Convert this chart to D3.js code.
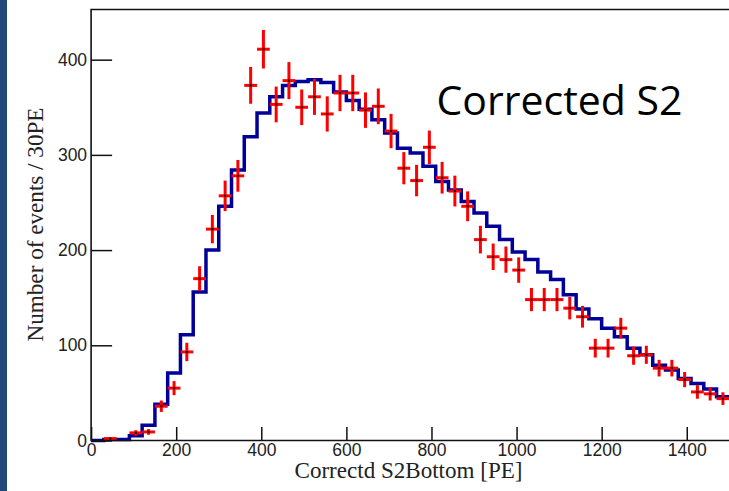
<!DOCTYPE html>
<html>
<head>
<meta charset="utf-8">
<script src="https://cdn.jsdelivr.net/npm/d3@7"></script>
<style>
  html, body { margin: 0; padding: 0; background: #fff; }
  svg { display: block; }
</style>
</head>
<body>
<svg width="729" height="491"></svg>
<script>
// lower bin edges, 30 PE per bin
var binEdges = [0, 30, 60, 90, 120, 150, 180, 210, 240, 270,
  300, 330, 360, 390, 420, 450, 480, 510, 540, 570,
  600, 630, 660, 690, 720, 750, 780, 810, 840, 870,
  900, 930, 960, 990, 1020, 1050, 1080, 1110, 1140, 1170,
  1200, 1230, 1260, 1290, 1320, 1350, 1380, 1410, 1440, 1470]
var binWidth = 30

// simulation (blue histogram)
var mcCounts = [0, 1, 1, 5, 16, 38, 71, 111, 156, 200,
  246, 284, 319, 344, 361, 373, 377, 379, 376, 366,
  357, 348, 337, 323, 307, 302, 288, 272, 263, 251,
  239, 225, 211, 198, 190, 177, 169, 153, 138, 128,
  118, 109, 97, 90, 79, 74, 65, 60, 54, 46]

// data (red points)
var dataCounts = [0, 2, 0, 8, 9, 36, 55, 93, 170, 222,
  257, 278, 373, 411, 353, 378, 350, 361, 343, 365,
  365, 347, 351, 325, 286, 273, 308, 276, 262, 246,
  211, 193, 190, 179, 148, 148, 148, 139, 130, 97,
  97, 118, 89, 90, 76, 76, 64, 51, 49, 44]

var xTicks = [0, 200, 400, 600, 800, 1000, 1200, 1400]
var yTicks = [0, 100, 200, 300, 400]

var xTitle = 'Correctd S2Bottom [PE]'
var yTitle = 'Number of events / 30PE'
var label = 'Corrected S2'

var draw = () => {
  var svg = d3.select('svg')
  var left = 91.1, right = 729.3, top = 9.5, bottom = 440.5

  // slide edge
  svg.append('rect')
    .attr('x', 0).attr('y', 0)
    .attr('width', 7).attr('height', 491)
    .attr('fill', '#1f497d')

  var x = d3.scaleLinear().domain([0, 1500]).range([left, right])
  var y = d3.scaleLinear().domain([0, 452.7]).range([bottom, top])

  // blue step histogram
  var steps = binEdges.map((e, i) => [e, mcCounts[i]])
  steps.push([binEdges[binEdges.length - 1] + binWidth, mcCounts[mcCounts.length - 1]])
  var line = d3.line()
    .x(d => x(d[0]))
    .y(d => y(d[1]))
    .curve(d3.curveStepAfter)

  svg.append('path')
    .datum(steps)
    .attr('fill', 'none')
    .attr('stroke', '#000099')
    .attr('stroke-width', 3.5)
    .attr('stroke-linejoin', 'miter')
    .attr('d', line)

  // red data points with sqrt(N) errors
  var pts = binEdges.map((e, i) => ({lo: e, n: dataCounts[i]})).filter(d => d.n > 0)
  var g = svg.append('g')
    .attr('stroke', '#ff0000')
    .attr('stroke-width', 3)

  g.selectAll('line.h').data(pts).enter().append('line')
    .attr('class', 'h')
    .attr('x1', d => x(d.lo))
    .attr('x2', d => x(d.lo + binWidth))
    .attr('y1', d => y(d.n))
    .attr('y2', d => y(d.n))

  g.selectAll('line.v').data(pts).enter().append('line')
    .attr('class', 'v')
    .attr('x1', d => x(d.lo + binWidth / 2))
    .attr('x2', d => x(d.lo + binWidth / 2))
    .attr('y1', d => y(d.n - Math.sqrt(d.n)))
    .attr('y2', d => y(d.n + Math.sqrt(d.n)))

  svg.append('g').selectAll('rect').data(pts).enter().append('rect')
    .attr('x', d => x(d.lo + binWidth / 2) - 1)
    .attr('y', d => y(d.n) - 1)
    .attr('width', 2).attr('height', 2)
    .attr('fill', '#000')

  // axes, ticks pointing inward
  var fmt = d3.format('d')
  var yAxis = g => g.attr('transform', `translate(${left},0)`)
    .call(d3.axisLeft(y).tickValues(yTicks).tickFormat(fmt).tickSizeInner(-21).tickSizeOuter(0).tickPadding(4))
  var xAxis = g => g.attr('transform', `translate(0,${bottom})`)
    .call(d3.axisBottom(x).tickValues(xTicks).tickFormat(fmt).tickSizeInner(-13.5).tickSizeOuter(0).tickPadding(3))

  ;[svg.append('g').call(yAxis), svg.append('g').call(xAxis)].forEach(a => {
    a.select('.domain').remove()
    a.selectAll('.tick line').attr('stroke', '#111').attr('stroke-width', 1.5)
    a.selectAll('.tick text')
      .attr('fill', '#222')
      .style('font-family', '"Liberation Sans", Arial, sans-serif')
      .style('font-size', '17.5px')
  })

  // frame
  svg.append('path')
    .attr('d', `M${right + 2},${top}H${left}V${bottom}H${right + 2}`)
    .attr('fill', 'none')
    .attr('stroke', '#111')
    .attr('stroke-width', 1.6)

  // titles
  svg.append('text')
    .attr('x', 408.5).attr('y', 478)
    .attr('text-anchor', 'middle')
    .attr('textLength', 228)
    .attr('lengthAdjust', 'spacingAndGlyphs')
    .style('font-family', '"Liberation Serif", "Times New Roman", serif')
    .style('font-size', '23px')
    .attr('fill', '#222')
    .text(xTitle)

  svg.append('text')
    .attr('transform', 'translate(43,224.5) rotate(-90)')
    .attr('text-anchor', 'middle')
    .attr('textLength', 234)
    .attr('lengthAdjust', 'spacingAndGlyphs')
    .style('font-family', '"Liberation Serif", "Times New Roman", serif')
    .style('font-size', '23px')
    .attr('fill', '#222')
    .text(yTitle)

  svg.append('text')
    .attr('x', 436.5).attr('y', 115)
    .attr('textLength', 246)
    .attr('lengthAdjust', 'spacingAndGlyphs')
    .style('font-family', '"Open Sans", "Noto Sans", sans-serif')
    .style('font-size', '41px')
    .attr('fill', '#000')
    .text(label)
}

if (document.readyState === 'loading') {
  document.addEventListener('DOMContentLoaded', draw)
} else {
  draw()
}
</script>
</body>
</html>
